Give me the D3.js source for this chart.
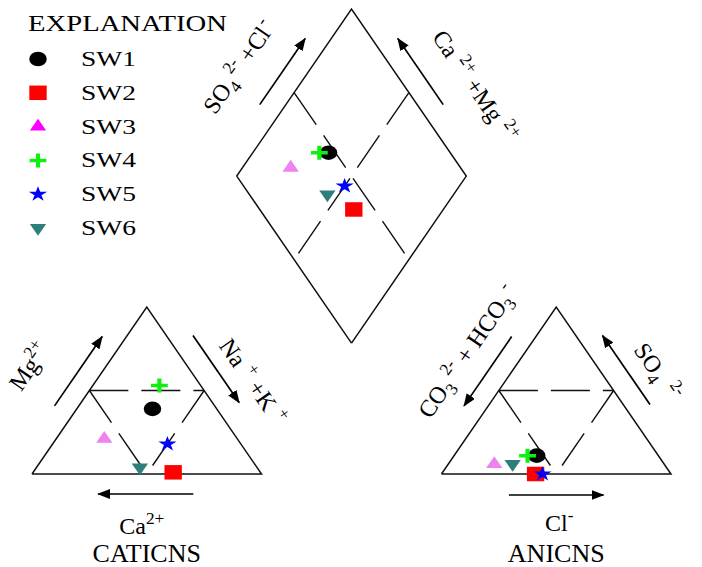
<!DOCTYPE html>
<meta charset="utf-8">
<html>
<head>
<style type="text/css">
  body { margin:0; background:#fff; }
  svg { display:block; }
  text { font-family: "Liberation Serif", "Times New Roman", serif; fill:#000; }
</style>
<script src="https://d3js.org/d3.v7.min.js"></script>
</head>
<body>
<svg width="702" height="567"></svg>
<script>
var samples = ["SW1", "SW2", "SW3", "SW4", "SW5", "SW6"];
// cations, % of meq
var ca  = [28, 38, 58, 18, 32, 51];
var mg  = [39,  1, 21, 53, 18,  4];
var naK = [33, 61, 21, 29, 50, 45];
// anions, % of meq
var hco3 = [53, 59, 74, 57, 56, 66];
var so4  = [11,  0,  6, 11,  0,  6];
var cl   = [36, 41, 20, 32, 44, 28];

var colors = ["#000000", "#ff0000", "#ee82ee", "#11ee11", "#0000ff", "#2e7f7c"];
var legendColors = ["#000000", "#ff0000", "#ff00ff", "#11ee11", "#0000ff", "#2e7f7c"];
var shapes = ["circle", "square", "triangle", "plus", "star", "down"];

var H = Math.sqrt(3) / 2, GAP = 0.784;
var x = d3.scaleLinear().domain([0, 2 + GAP]).range([32, 671]);
var y = d3.scaleLinear().domain([0, H]).range([474, 307]);
function px(p) { return [x(p[0]), y(p[1])]; }

// corners (unit coords)
var cA = [0, 0], cB = [0.5, H], cC = [1, 0];
var aA = [1 + GAP, 0], aB = [1.5 + GAP, H], aC = [2 + GAP, 0];
var dBot = [1 + GAP / 2, GAP * H], dL = [0.5 + GAP / 2, GAP * H + H],
    dT = [1 + GAP / 2, GAP * H + 2 * H], dR = [1.5 + GAP / 2, GAP * H + H];
function mid(p, q) { return [(p[0] + q[0]) / 2, (p[1] + q[1]) / 2]; }

var svg = d3.select("svg");
var line = d3.line();

svg.append("defs").append("marker")
    .attr("id", "ah").attr("viewBox", "0 0 13 10")
    .attr("refX", 12).attr("refY", 5)
    .attr("markerWidth", 13).attr("markerHeight", 10)
    .attr("markerUnits", "userSpaceOnUse").attr("orient", "auto")
  .append("path").attr("d", "M0,0L13,5L0,10Z").attr("fill", "#000");

// outlines
[[cA, cB, cC, cA], [aA, aB, aC, aA], [dBot, dL, dT, dR, dBot]].forEach(function(s) {
  svg.append("path").attr("d", line(s.map(px)))
    .attr("fill", "none").attr("stroke", "#111").attr("stroke-width", 1.5);
});

// broken 50% lines
var inner = [
  [mid(cA, cB), mid(cB, cC)], [mid(cA, cB), mid(cA, cC)], [mid(cB, cC), mid(cA, cC)],
  [mid(aA, aB), mid(aB, aC)], [mid(aA, aB), mid(aA, aC)], [mid(aB, aC), mid(aA, aC)],
  [mid(dL, dT), mid(dBot, dR)], [mid(dT, dR), mid(dBot, dL)]
];
inner.forEach(function(s) {
  svg.append("path").attr("d", line(s.map(px)))
    .attr("fill", "none").attr("stroke", "#111").attr("stroke-width", 1.4)
    .attr("stroke-dasharray", "39,13");
});

// point on edge p->q at fraction f, pushed outward by off px
function along(p, q, f, off) {
  var a = px(p), b = px(q);
  var dx = b[0] - a[0], dy = b[1] - a[1], L = Math.hypot(dx, dy);
  var ux = dx / L, uy = dy / L;
  return { x: a[0] + dx * f + uy * off, y: a[1] + dy * f - ux * off,
           angle: Math.atan2(dy, dx) * 180 / Math.PI };
}

// arrows: edge, from-fraction, to-fraction (head), offset
var arrows = [
  [cA, cB, 0.34, 0.755, 20], [cB, cC, 0.245, 0.647, 22], [cC, cA, 0.297, 0.712, 20],
  [aA, aB, 0.755, 0.34, 20], [aB, aC, 0.659, 0.245, 22], [aC, aA, 0.706, 0.294, 21],
  [dL, dT, 0.355, 0.751, 21.5], [dT, dR, 0.645, 0.249, 21.5]
];
arrows.forEach(function(a) {
  var s = along(a[0], a[1], a[2], a[4]), e = along(a[0], a[1], a[3], a[4]);
  svg.append("line").attr("x1", s.x).attr("y1", s.y).attr("x2", e.x).attr("y2", e.y)
    .attr("stroke", "#000").attr("stroke-width", 1.7).attr("marker-end", "url(#ah)");
});

function rich(t, parts, fs) {
  var shift = 0;
  parts.forEach(function(p) {
    var target = p[1] === "sup" ? -0.42 * fs : p[1] === "sub" ? 0.25 * fs : 0;
    var ts = t.append("tspan").attr("dy", target - shift).text(p[0]);
    if (p[1]) ts.attr("font-size", 0.72 * fs);
    if (p[2]) ts.attr("dx", p[2]);
    shift = target;
  });
}

// axis labels along edges: edge, fraction, offset, parts
var edgeLabels = [
  [cA, cB, 0.43, 55, [["Mg", ""], ["2+", "sup"]]],
  [cB, cC, 0.6, 37, [["Na", ""], ["+", "sup", 7], [" +K", ""], ["+", "sup", 7]]],
  [dL, dT, 0.45, 52, [["SO", ""], ["4", "sub"], ["2-", "sup", 3], [" +Cl", ""], ["-", "sup", 2]]],
  [dT, dR, 0.66, 50, [["Ca", ""], ["2+", "sup", 7], [" +Mg", ""], ["2+", "sup", 7]]],
  [aA, aB, 0.571, 40, [["CO", ""], ["3", "sub"], ["2-", "sup", 4], [" + HCO", ""], ["3", "sub"], ["-", "sup", 4]]],
  [aB, aC, 0.547, 39, [["SO", ""], ["4", "sub"], ["2-", "sup", 10]]]
];
edgeLabels.forEach(function(l) {
  var p = along(l[0], l[1], l[2], l[3]);
  var t = svg.append("text").attr("font-size", 24).attr("text-anchor", "middle")
    .attr("transform", "translate(" + [p.x, p.y] + ") rotate(" + p.angle + ")");
  rich(t, l[4], 24);
});

// bottom labels
var catMid = px(mid(cA, cC)), anMid = px(mid(aA, aC));
rich(svg.append("text").attr("font-size", 24).attr("text-anchor", "middle")
  .attr("x", catMid[0] - 5).attr("y", 534), [["Ca", ""], ["2+", "sup"]], 24);
svg.append("text").attr("font-size", 26).attr("text-anchor", "middle")
  .attr("x", catMid[0]).attr("y", 562).text("CATICNS");
rich(svg.append("text").attr("font-size", 24).attr("text-anchor", "middle")
  .attr("x", anMid[0] + 3).attr("y", 531), [["Cl", ""], ["-", "sup"]], 24);
svg.append("text").attr("font-size", 26).attr("text-anchor", "middle")
  .attr("x", anMid[0]).attr("y", 562).text("ANICNS");

// markers
var plusType = { draw: function(ctx, size) {
  var r = Math.sqrt(size) / 2;
  ctx.moveTo(-r, 0); ctx.lineTo(r, 0); ctx.moveTo(0, -r); ctx.lineTo(0, r);
} };
var symSpec = {
  circle: [d3.symbolCircle, 167], square: [d3.symbolSquare, 210],
  triangle: [d3.symbolTriangle, 80], down: [d3.symbolTriangle, 80],
  star: [d3.symbolStar, 72], plus: [plusType, 196]
};
function marker(g, i, cx, cy, col) {
  var s = symSpec[shapes[i]];
  var path = g.append("path").attr("d", d3.symbol(s[0], s[1])())
    .attr("transform", "translate(" + [cx, cy] + ") scale(1.2,1)" + (shapes[i] === "down" ? " rotate(180)" : ""));
  if (shapes[i] === "plus") path.attr("fill", "none").attr("stroke", col).attr("stroke-width", 3.5);
  else path.attr("fill", col);
}

var pts = svg.append("g");
samples.forEach(function(s, i) {
  var c = px([naK[i] / 100 + mg[i] / 200, mg[i] / 100 * H]);
  var a = px([1 + GAP + cl[i] / 100 + so4[i] / 200, so4[i] / 100 * H]);
  var cm = (ca[i] + mg[i]) / 100, sc = (so4[i] + cl[i]) / 100;
  var d = px([1 + GAP / 2 + (sc - cm) / 2, H * (GAP + cm + sc)]);
  [c, a, d].forEach(function(p) { marker(pts, i, p[0], p[1], colors[i]); });
});

// legend
var leg = svg.append("g");
leg.append("text").attr("x", 28).attr("y", 31).attr("font-size", 23)
  .attr("textLength", 199).attr("lengthAdjust", "spacingAndGlyphs").text("EXPLANATION");
samples.forEach(function(s, i) {
  var yy = 59 + i * 33.8;
  marker(leg, i, 38, yy, legendColors[i]);
  leg.append("text").attr("x", 81).attr("y", yy + 7).attr("font-size", 20)
    .attr("textLength", 55).attr("lengthAdjust", "spacingAndGlyphs").text(s);
});
</script>
</body>
</html>
